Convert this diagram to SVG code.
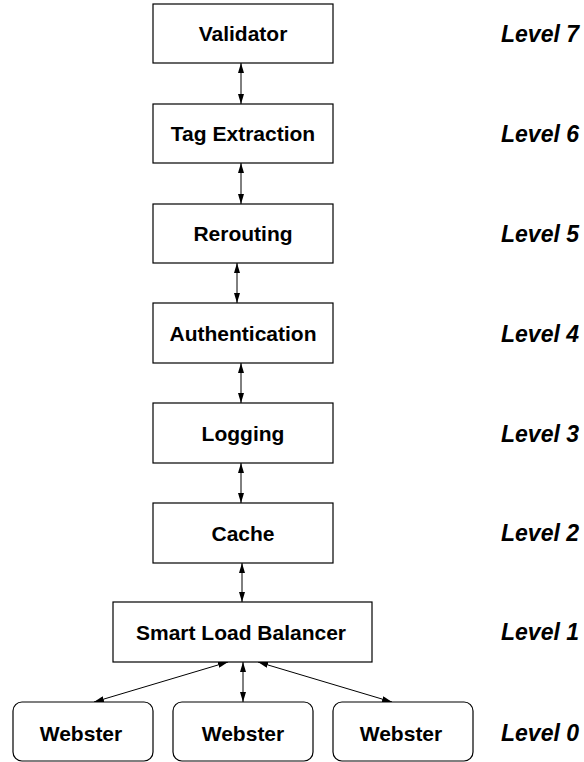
<svg xmlns="http://www.w3.org/2000/svg" width="584" height="762" viewBox="0 0 584 762">
<style>
.box{fill:#fff;stroke:#000;stroke-width:1.2}
.t{font-family:"Liberation Sans",Arial,sans-serif;font-weight:bold;font-size:21px;text-anchor:middle;fill:#000}
.lv{font-family:"Liberation Sans",Arial,sans-serif;font-weight:bold;font-style:italic;font-size:23px;fill:#000}
.c{stroke:#000;stroke-width:1;fill:none;marker-start:url(#ah);marker-end:url(#ah)}
</style>
<defs>
<marker id="ah" viewBox="0 0 10 6" refX="10" refY="3" markerWidth="10" markerHeight="6" markerUnits="userSpaceOnUse" orient="auto-start-reverse">
<path d="M0,0 L10,3 L0,6 z" fill="#000"/>
</marker>
</defs>
<rect width="584" height="762" fill="#fff"/>
<g id="connectors">
<line class="c" x1="241" y1="63" x2="241" y2="104"/>
<line class="c" x1="241" y1="163" x2="241" y2="204"/>
<line class="c" x1="237" y1="263" x2="237" y2="303"/>
<line class="c" x1="241" y1="363" x2="241" y2="403"/>
<line class="c" x1="241" y1="463" x2="241" y2="503"/>
<line class="c" x1="242" y1="563" x2="242" y2="602"/>
<line class="c" x1="243" y1="662" x2="243" y2="702"/>
<line class="c" x1="228" y1="662" x2="94" y2="702"/>
<line class="c" x1="258" y1="662" x2="392" y2="702"/>
</g>
<g id="validator"><rect class="box" x="153" y="4" width="180" height="59"/><text class="t" x="243" y="41">Validator</text></g>
<g id="tag-extraction"><rect class="box" x="153" y="104" width="180" height="59"/><text class="t" x="243" y="141">Tag Extraction</text></g>
<g id="rerouting"><rect class="box" x="153" y="204" width="180" height="59"/><text class="t" x="243" y="241">Rerouting</text></g>
<g id="authentication"><rect class="box" x="153" y="303" width="180" height="60"/><text class="t" x="243" y="341">Authentication</text></g>
<g id="logging"><rect class="box" x="153" y="403" width="180" height="60"/><text class="t" x="243" y="441">Logging</text></g>
<g id="cache"><rect class="box" x="153" y="503" width="180" height="60"/><text class="t" x="243" y="541">Cache</text></g>
<g id="smart-load-balancer"><rect class="box" x="113" y="602" width="259" height="60"/><text class="t" x="241" y="640">Smart Load Balancer</text></g>
<g id="webster-1"><rect class="box" x="13" y="702" width="140" height="59" rx="9"/><text class="t" x="81" y="741">Webster</text></g>
<g id="webster-2"><rect class="box" x="173" y="702" width="140" height="59" rx="9"/><text class="t" x="243" y="741">Webster</text></g>
<g id="webster-3"><rect class="box" x="333" y="702" width="140" height="59" rx="9"/><text class="t" x="401" y="741">Webster</text></g>
<g id="levels">
<text class="lv" x="501" y="42">Level 7</text>
<text class="lv" x="501" y="142">Level 6</text>
<text class="lv" x="501" y="242">Level 5</text>
<text class="lv" x="501" y="342">Level 4</text>
<text class="lv" x="501" y="442">Level 3</text>
<text class="lv" x="501" y="541">Level 2</text>
<text class="lv" x="501" y="640">Level 1</text>
<text class="lv" x="501" y="741">Level 0</text>
</g>
</svg>
